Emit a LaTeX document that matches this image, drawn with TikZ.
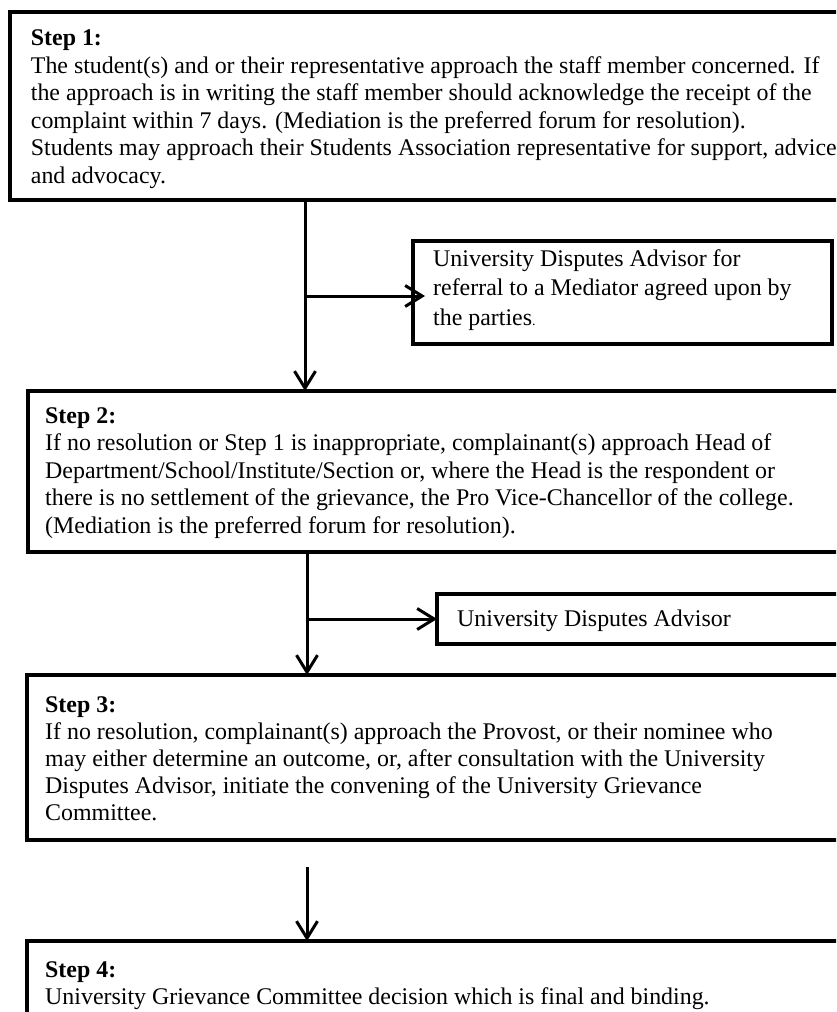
\documentclass[tikz,border=0pt]{standalone}
\usepackage{fontspec}
\setmainfont{Liberation Serif}
\usetikzlibrary{arrows.meta}
\newcommand\txtline[4]{\node[txt] (#1) at (#2,#3) {#4};}
\begin{document}
\begin{tikzpicture}[x=1pt,y=-1pt,
  boxline/.style={draw=black, line width=4pt, inner sep=0pt, outer sep=0pt, anchor=north west},
  txt/.style={anchor=base west, inner sep=0pt, font=\fontsize{23.9}{27.5}\selectfont},
  conn/.style={draw=black, line width=3pt, -{Straight Barb[length=17pt,width=21pt]}},
]
\useasboundingbox (0,0) rectangle (836,1012);
\clip (0,0) rectangle (836,1012);
\fill[white] (0,0) rectangle (836,1012);

% boxes
\node[boxline, minimum width=850pt, minimum height=187.5pt] (b1) at (10,12) {};
\node[boxline, minimum width=832.5pt, minimum height=161pt] (b2) at (27.5,391) {};
\node[boxline, minimum width=833pt, minimum height=164.5pt] (b3) at (27,675) {};
\node[boxline, minimum width=833pt, minimum height=99pt] (b4) at (27,941) {};
\node[boxline, minimum width=419pt, minimum height=103pt] (med) at (413,241) {};
\node[boxline, minimum width=423pt, minimum height=50pt] (adv) at (437,594) {};

% Step 1 text
\txtline{s1h}{30.7}{45.5}{\textbf{Step 1:}}
\txtline{s1a}{30.7}{73}{The student(s) and or their representative approach the staff member concerned. If}
\txtline{s1b}{30.7}{100.5}{the approach is in writing the staff member should acknowledge the receipt of the}
\txtline{s1c}{30.7}{128}{complaint within 7 days. (Mediation is the preferred forum for resolution).}
\txtline{s1d}{30.7}{155.5}{Students may approach their Students Association representative for support, advice}
\txtline{s1e}{30.7}{183}{and advocacy.}

% Mediator box text
\txtline{m1}{433}{266}{University Disputes Advisor for}
\txtline{m2}{433}{295.5}{referral to a Mediator agreed upon by}
\txtline{m3}{433}{325}{the parties{\fontsize{14}{14}\selectfont.}}

% Step 2 text
\txtline{s2h}{45}{423}{\textbf{Step 2:}}
\txtline{s2a}{45}{450.5}{If no resolution or Step 1 is inappropriate, complainant(s) approach Head of}
\txtline{s2b}{45}{478}{Department/School/Institute/Section or, where the Head is the respondent or}
\txtline{s2c}{45}{505.5}{there is no settlement of the grievance, the Pro Vice-Chancellor of the college.}
\txtline{s2d}{45}{533}{(Mediation is the preferred forum for resolution).}

% Advisor box text
\txtline{a1}{457}{626}{University Disputes Advisor}

% Step 3 text
\txtline{s3h}{45}{712}{\textbf{Step 3:}}
\txtline{s3a}{45}{739.2}{If no resolution, complainant(s) approach the Provost, or their nominee who}
\txtline{s3b}{45}{766.4}{may either determine an outcome, or, after consultation with the University}
\txtline{s3c}{45}{793.6}{Disputes Advisor, initiate the convening of the University Grievance}
\txtline{s3d}{45}{820.8}{Committee.}

% Step 4 text
\txtline{s4h}{45}{977}{\textbf{Step 4:}}
\txtline{s4a}{45}{1004}{University Grievance Committee decision which is final and binding.}

% connectors
\coordinate (x1) at (305,0);
\coordinate (j1) at (305,296);
\coordinate (x2) at (307,0);
\coordinate (j2) at (307,619);
\coordinate (a3s) at (307,867);
\draw[conn] (b1.south -| x1) -- (b2.north -| x1);
\draw[conn, shorten >=-12pt] (j1) -- (med.west |- j1);
\draw[conn] (b2.south -| x2) -- (b3.north -| x2);
\draw[conn] (j2) -- (adv.west |- j2);
\draw[conn] (a3s) -- (b4.north -| a3s);
\end{tikzpicture}
\end{document}
